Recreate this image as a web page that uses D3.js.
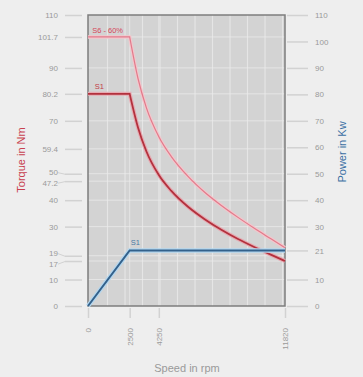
<!DOCTYPE html>
<html><head><meta charset="utf-8">
<script src="https://cdn.jsdelivr.net/npm/d3@7"></script>
<style>
body{margin:0;background:#eeeeee;}
svg{display:block;font-family:"Liberation Sans",Arial,sans-serif;}
</style>
</head><body>
<svg id="chart" width="363" height="377"></svg>
<script>
// ---- data ----
const speedTicks = [0, 2500, 4250, 11820];
const torqueTicks = [0, 10, 17, 19, 30, 40, 47.2, 50, 59.4, 70, 80.2, 90, 101.7, 110];
const powerTicks = [0, 10, 21, 30, 40, 50, 60, 70, 80, 90, 100, 110];
const gridSpeeds = [1170, 2220, 3270, 4320, 5370, 6420, 7470, 8520, 9570, 10620, 11670];
const speeds = [0, 2500, 3000, 3500, 4250, 5000, 6000, 7000, 8000, 9000, 10000, 11000, 11820];
const torqueS1 = [80.2, 80.2, 67.5, 58.5, 49.5, 43.5, 37.5, 32.8, 28.8, 25.3, 22.2, 19.3, 17];
const torqueS6 = [101.7, 101.7, 86, 75, 64, 56.5, 49, 43, 38, 33.5, 29.3, 25.3, 22];
const powerSpeeds = [0, 2500, 11820];
const powerS1 = [0, 21, 21];

// ---- layout ----
const svg = d3.select("#chart");
const L = 88, R = 285, T = 15, B = 306;
const x = d3.scaleLinear().domain([0, 11820]).range([L, R]);
const y = d3.scaleLinear().domain([0, 110]).range([B, T]);
const y2 = d3.scaleLinear().domain([0, 110]).range([B, T]);

const tickCol = "#9a9a9a", tickLine = "#d2d2d2";

// plot background
svg.append("rect").attr("x", L).attr("y", T).attr("width", R - L).attr("height", B - T).attr("fill", "#d3d3d3");

// grid
const g = svg.append("g");
g.selectAll("line.v").data(gridSpeeds).join("line")
  .attr("x1", d => x(d)).attr("x2", d => x(d)).attr("y1", T).attr("y2", B)
  .attr("stroke", "#ececec").attr("stroke-width", 1.2).attr("opacity", 0.75);
g.selectAll("line.vt").data(speedTicks.slice(1, 3)).join("line")
  .attr("x1", d => x(d)).attr("x2", d => x(d)).attr("y1", T).attr("y2", B)
  .attr("stroke", "#e4e4e4").attr("stroke-width", 1);
g.selectAll("line.h").data(torqueTicks.filter(d => d > 0 && d < 110)).join("line")
  .attr("x1", L).attr("x2", R).attr("y1", d => y(d)).attr("y2", d => y(d))
  .attr("stroke", "#ececec").attr("stroke-width", 1).attr("opacity", 0.75);

// border
svg.append("rect").attr("x", L).attr("y", T).attr("width", R - L).attr("height", B - T)
  .attr("fill", "none").attr("stroke", "#7d7d7d").attr("stroke-width", 1.5);

// left axis
const leftAx = svg.append("g").attr("transform", `translate(${L - 6},0)`)
  .call(d3.axisLeft(y).tickValues(torqueTicks).tickSize(17).tickPadding(7).tickFormat(d => String(d)));
leftAx.select(".domain").remove();
leftAx.selectAll(".tick line").attr("stroke", tickLine).attr("stroke-width", 1.5);
leftAx.selectAll(".tick text").attr("fill", tickCol).attr("font-size", 8).attr("font-family", "Liberation Sans, Arial, sans-serif");
// dodge crowded labels
const shifts = new Map();
const sorted = torqueTicks.slice().sort((a, b) => a - b);
let pos = sorted.map(v => y(v));
for (let it = 0; it < 30; it++) {
  for (let i = 1; i < pos.length; i++) {
    const gap = pos[i - 1] - pos[i];
    if (gap < 10.5) { const d = (10.5 - gap) / 2; pos[i - 1] += d; pos[i] -= d; }
  }
}
sorted.forEach((v, i) => shifts.set(v, pos[i] - y(v)));
leftAx.selectAll(".tick").each(function (d) {
  const s = shifts.get(d);
  if (Math.abs(s) > 0.5) {
    d3.select(this).select("text").attr("y", s);
    d3.select(this).append("line").attr("x1", -24).attr("y1", s).attr("x2", -17).attr("y2", 0)
      .attr("stroke", tickLine).attr("stroke-width", 1);
  }
});

// right axis
const rightAx = svg.append("g").attr("transform", `translate(${R + 2},0)`)
  .call(d3.axisRight(y2).tickValues(powerTicks).tickSize(21).tickPadding(7));
rightAx.select(".domain").remove();
rightAx.selectAll(".tick line").attr("stroke", tickLine).attr("stroke-width", 1.5);
rightAx.selectAll(".tick text").attr("fill", tickCol).attr("font-size", 8).attr("font-family", "Liberation Sans, Arial, sans-serif");

// bottom axis
const botAx = svg.append("g").attr("transform", `translate(0,${B + 2})`)
  .call(d3.axisBottom(x).tickValues(speedTicks).tickSize(10).tickFormat(d => String(d)));
botAx.select(".domain").remove();
botAx.selectAll(".tick line").attr("stroke", tickLine).attr("stroke-width", 1.5);
botAx.selectAll(".tick text").attr("fill", tickCol).attr("font-size", 8)
  .attr("font-family", "Liberation Sans, Arial, sans-serif")
  .attr("y", 0).attr("dy", "0.35em").attr("text-anchor", "end")
  .attr("transform", "translate(0,20) rotate(-90)");

// series: flat part straight, falling part smooth
const curve = d3.line().x(d => x(d[0])).y(d => y(d[1])).curve(d3.curveMonotoneX);
function torquePath(vals) {
  const pts = speeds.map((s, i) => [s, vals[i]]);
  const flat = `M${x(pts[0][0])},${y(pts[0][1])}`;
  return flat + curve(pts.slice(1)).replace(/^M/, "L");
}
const p1 = powerSpeeds.map((s, i) => [s, powerS1[i]]);
const lineLin = d3.line().x(d => x(d[0])).y(d => y2(d[1]));

svg.append("path").attr("d", torquePath(torqueS6)).attr("fill", "none").attr("stroke", "#f3c6cc").attr("stroke-width", 3.5);
svg.append("path").attr("d", torquePath(torqueS6)).attr("fill", "none").attr("stroke", "#e27b8b").attr("stroke-width", 1.2);
svg.append("path").attr("d", torquePath(torqueS1)).attr("fill", "none").attr("stroke", "#e6aab2").attr("stroke-width", 4);
svg.append("path").attr("d", torquePath(torqueS1)).attr("fill", "none").attr("stroke", "#b3313d").attr("stroke-width", 1.8);
svg.append("path").attr("d", lineLin(p1)).attr("fill", "none").attr("stroke", "#b3d6ee").attr("stroke-width", 4.5);
svg.append("path").attr("d", lineLin(p1)).attr("fill", "none").attr("stroke", "#33618b").attr("stroke-width", 2);

// series labels
svg.append("text").attr("x", x(250)).attr("y", y(torqueS6[0]) - 4).text("S6 - 60%")
  .attr("font-size", 7.5).attr("fill", "#d5475a");
svg.append("text").attr("x", x(400)).attr("y", y(torqueS1[0]) - 5).text("S1")
  .attr("font-size", 7.5).attr("fill", "#c23a48");
svg.append("text").attr("x", x(powerSpeeds[1]) + 1).attr("y", y2(powerS1[1]) - 5).text("S1")
  .attr("font-size", 7.5).attr("fill", "#4a7aa5");

// axis titles
svg.append("text").attr("transform", "translate(25,160) rotate(-90)").attr("text-anchor", "middle")
  .attr("font-size", 11).attr("fill", "#c8404f").text("Torque in Nm");
svg.append("text").attr("transform", "translate(346,152) rotate(-90)").attr("text-anchor", "middle")
  .attr("font-size", 11).attr("fill", "#3a6fa3").text("Power in Kw");
svg.append("text").attr("x", 187).attr("y", 372).attr("text-anchor", "middle")
  .attr("font-size", 11).attr("fill", "#9a9a9a").text("Speed in rpm");
</script>
</body></html>
